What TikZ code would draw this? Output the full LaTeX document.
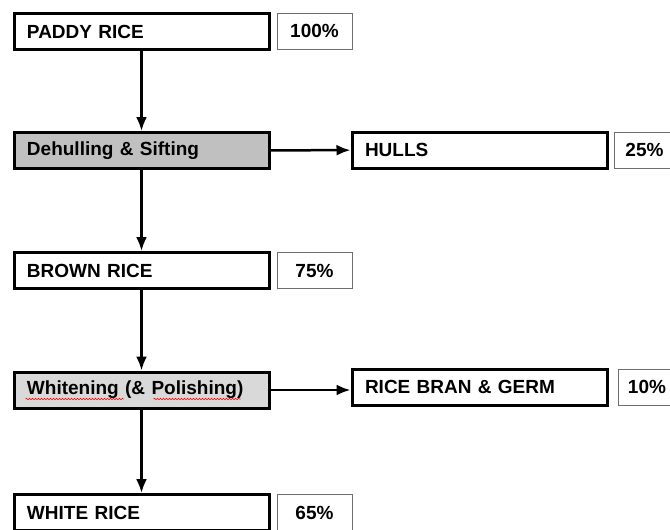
\documentclass[tikz,border=0pt]{standalone}
\usepackage{fontspec}
\setmainfont{Liberation Sans}
\usetikzlibrary{arrows.meta,calc,decorations.pathmorphing}
\definecolor{darkfill}{RGB}{192,192,192}
\definecolor{lightfill}{RGB}{217,217,217}
\definecolor{pctline}{RGB}{110,110,110}
\tikzset{
  stage/.style={draw,line width=3pt,text width=229pt,inner xsep=13pt,align=left,
    minimum height=36pt,font=\fontsize{19}{21}\selectfont\bfseries},
  pct/.style={draw=pctline,line width=1pt,minimum width=75pt,minimum height=36pt,
    inner sep=0pt,font=\fontsize{19}{21}\selectfont\bfseries},
  flow/.style={line width=2.5pt,-{Latex[length=14pt,width=11pt]}},
  squig/.style={red,line width=0.6pt,decorate,decoration={snake,amplitude=0.7pt,segment length=3pt}}
}
\begin{document}
\begin{tikzpicture}[x=1pt,y=-1pt]
\useasboundingbox (0,0) rectangle (670,530);
% main column
\node[stage] (paddy) at (141.5,31.5) {PADDY RICE};
\node[stage,fill=darkfill] (dehull) at (141.5,150.5) {Dehulling \& Sifting};
\node[stage] (brown) at (141.5,270.5) {BROWN RICE};
\node[stage,fill=lightfill] (whiten) at (141.5,390) {Whitening (\& Polishing)};
\node[stage] (white) at (141.5,512.5) {WHITE RICE};
% side products
\node[stage] (hulls) at (479.5,150) {HULLS};
\node[stage] (bran) at (479.5,387) {RICE BRAN \& GERM};
% shares
\node[pct] (pctpaddy) at (314.5,31) {100\%};
\node[pct] (pctbrown) at (314.5,270.5) {75\%};
\node[pct] (pctwhite) at (314.5,512.5) {65\%};
\node[pct,minimum width=61pt] (pcthulls) at (644.5,150) {25\%};
\node[pct,minimum width=58pt] (pctbran) at (647,387) {10\%};
% arrows
\draw[flow] (paddy) -- (dehull);
\draw[flow] (dehull) -- (brown);
\draw[flow] (brown) -- (whiten);
\draw[flow] (whiten) -- (white);
\draw[flow] (dehull) -- (hulls);
\draw[flow] (whiten.east) -- (whiten.east -| bran.west);
% spell-check marks
\draw[squig] ($(whiten.west)+(13,9)$) -- ++(98,0);
\draw[squig] ($(whiten.west)+(141,9)$) -- ++(87,0);
\end{tikzpicture}
\end{document}
